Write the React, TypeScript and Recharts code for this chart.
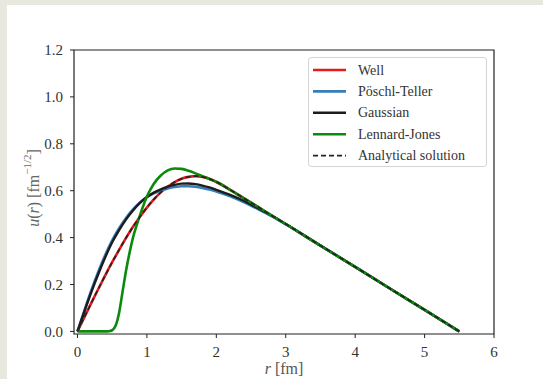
import React from 'react';
import { LineChart, Line, XAxis, YAxis, ReferenceArea } from 'recharts';

// radial grid shared by the smooth potentials
const R = [0, 0.1, 0.2, 0.3, 0.4, 0.5, 0.6, 0.7, 0.8, 0.9, 1.0, 1.1, 1.2, 1.3, 1.4, 1.5, 1.6, 1.7, 1.8, 1.9, 2.0, 2.2, 2.4, 2.6, 2.8, 3.0, 3.5, 4.0, 4.5, 5.0, 5.5];
const WELL = [0, 0.061, 0.122, 0.181, 0.239, 0.295, 0.348, 0.399, 0.446, 0.489, 0.528, 0.563, 0.593, 0.617, 0.637, 0.651, 0.659, 0.662, 0.659, 0.651, 0.637, 0.604, 0.567, 0.531, 0.494, 0.458, 0.366, 0.275, 0.183, 0.092, 0];
const POSCHL = [0, 0.09, 0.176, 0.255, 0.326, 0.388, 0.44, 0.484, 0.52, 0.55, 0.572, 0.589, 0.601, 0.61, 0.616, 0.619, 0.619, 0.617, 0.612, 0.605, 0.597, 0.576, 0.551, 0.522, 0.491, 0.457, 0.366, 0.275, 0.183, 0.092, 0];
const GAUSS = [0, 0.085, 0.168, 0.245, 0.316, 0.38, 0.432, 0.478, 0.516, 0.548, 0.573, 0.592, 0.606, 0.617, 0.625, 0.63, 0.631, 0.628, 0.622, 0.614, 0.604, 0.582, 0.556, 0.525, 0.493, 0.458, 0.366, 0.275, 0.183, 0.092, 0];
const ANALYTIC = [0, 0.061, 0.122, 0.181, 0.239, 0.295, 0.348, 0.399, 0.446, 0.489, 0.528, 0.563, 0.593, 0.617, 0.637, 0.651, 0.659, 0.662, 0.659, 0.651, 0.637, 0.604, 0.567, 0.531, 0.494, 0.458, 0.366, 0.275, 0.183, 0.092, 0];

// Lennard-Jones needs a finer grid around the hard core
const R_LJ = [0, 0.1, 0.2, 0.3, 0.4, 0.45, 0.5, 0.55, 0.6, 0.65, 0.7, 0.75, 0.8, 0.85, 0.9, 1.0, 1.1, 1.2, 1.3, 1.4, 1.5, 1.6, 1.7, 1.8, 1.9, 2.0, 2.2, 2.4, 2.6, 2.8, 3.0, 3.5, 4.0, 4.5, 5.0, 5.5];
const LJ = [0, 0, 0, 0, 0, 0.001, 0.005, 0.025, 0.08, 0.17, 0.26, 0.335, 0.4, 0.45, 0.495, 0.575, 0.63, 0.665, 0.687, 0.695, 0.693, 0.685, 0.674, 0.662, 0.65, 0.638, 0.604, 0.567, 0.531, 0.494, 0.458, 0.366, 0.275, 0.183, 0.092, 0];

const X_TICKS = [0, 1, 2, 3, 4, 5, 6];
const Y_TICKS = [0, 0.2, 0.4, 0.6, 0.8, 1.0, 1.2];

const SERIES = [
  { name: 'Well', color: '#e41a1c', dash: undefined as string | undefined },
  { name: 'Pöschl-Teller', color: '#377eb8', dash: undefined },
  { name: 'Gaussian', color: '#1c1c1c', dash: undefined },
  { name: 'Lennard-Jones', color: '#0b8a0b', dash: undefined },
  { name: 'Analytical solution', color: '#222', dash: '5 3' },
];

const FONT = '"Liberation Serif", "Times New Roman", serif';

const wellData = R.map((r, i) => ({ r, u: WELL[i] }));
const poschlData = R.map((r, i) => ({ r, u: POSCHL[i] }));
const gaussData = R.map((r, i) => ({ r, u: GAUSS[i] }));
const analyticData = R.map((r, i) => ({ r, u: ANALYTIC[i] }));
const ljData = R_LJ.map((r, i) => ({ r, u: LJ[i] }));

const XTick = ({ x, y, payload }: any) => (
  <text x={x} y={y} dy="0.71em" textAnchor="middle" fontSize={15} fontFamily={FONT} fill="#333">
    {payload.value}
  </text>
);

const YTick = ({ x, y, payload }: any) => (
  <text x={x} y={y} dy="0.36em" textAnchor="end" fontSize={15} fontFamily={FONT} fill="#333">
    {Number(payload.value).toFixed(1)}
  </text>
);

const LegendBox = () => (
  <div style={{ position: 'absolute', left: 308, top: 57, width: 179, height: 110, background: '#fff', border: '1px solid #d6d6d6', borderRadius: 3, boxSizing: 'border-box' }}>
    <svg width={177} height={108} style={{ display: 'block' }}>
      {SERIES.map((s, i) => {
        const y = 12 + i * 21.4;
        return (
          <g key={s.name}>
            <line x1={4} x2={37} y1={y} y2={y} stroke={s.color} strokeWidth={s.dash ? 1.6 : 2.6} strokeDasharray={s.dash} />
            <text x={49} y={y + 4.5} fontSize={14} fontFamily={FONT} fill="#333">{s.name}</text>
          </g>
        );
      })}
    </svg>
  </div>
);

export default function App() {
  return (
    <div style={{ position: 'fixed', left: 0, top: 0, width: 543, height: 379, background: '#e8e8df', overflow: 'hidden' }}>
      <div style={{ position: 'absolute', left: 7, top: 5, width: 536, height: 374, background: '#fff' }} />
      <div style={{ position: 'absolute', left: 0, top: 0 }}>
        <LineChart width={543} height={379} margin={{ top: 50, right: 49, left: 14, bottom: 5 }} style={{ fontFamily: FONT }}>
          <XAxis
            dataKey="r"
            type="number"
            domain={[-0.05, 6]}
            ticks={X_TICKS}
            allowDataOverflow
            axisLine={false}
            tickLine={{ stroke: '#222' }}
            tickSize={4}
            tickMargin={8}
            height={40}
            tick={XTick}
            label={{
              content: () => (
                <text x={284} y={374} textAnchor="middle" fontSize={16} fontFamily={FONT} fill="#555">
                  <tspan fontStyle="italic">r</tspan> [fm]
                </text>
              ),
            }}
          />
          <YAxis
            type="number"
            domain={[-0.011, 1.2]}
            ticks={Y_TICKS}
            allowDataOverflow
            axisLine={false}
            tickLine={{ stroke: '#222' }}
            tickSize={4}
            tickMargin={7}
            width={60}
            tick={YTick}
            label={{
              content: () => (
                <text x={33} y={188} transform="rotate(-90, 33, 188)" textAnchor="middle" dominantBaseline="central" fontSize={16} fontFamily={FONT} fill="#666">
                  <tspan fontStyle="italic">u</tspan>(<tspan fontStyle="italic">r</tspan>) [fm<tspan fontSize={11} dy={-6}>−1/2</tspan><tspan dy={6}>]</tspan>
                </text>
              ),
            }}
          />
          <Line data={wellData} dataKey="u" name="Well" type="monotone" stroke={SERIES[0].color} strokeWidth={2.6} dot={false} isAnimationActive={false} />
          <Line data={poschlData} dataKey="u" name="Pöschl-Teller" type="monotone" stroke={SERIES[1].color} strokeWidth={2.6} dot={false} isAnimationActive={false} />
          <Line data={gaussData} dataKey="u" name="Gaussian" type="monotone" stroke={SERIES[2].color} strokeWidth={2.4} dot={false} isAnimationActive={false} />
          <Line data={ljData} dataKey="u" name="Lennard-Jones" type="monotone" stroke={SERIES[3].color} strokeWidth={2.6} dot={false} isAnimationActive={false} />
          <Line data={analyticData} dataKey="u" name="Analytical solution" type="monotone" stroke={SERIES[4].color} strokeWidth={1.6} strokeDasharray="5 3" dot={false} isAnimationActive={false} />
          <ReferenceArea x1={-0.05} x2={6} y1={-0.011} y2={1.2} fill="none" stroke="#222" strokeWidth={1.2} ifOverflow="visible" />
        </LineChart>
      </div>
      <LegendBox />
    </div>
  );
}
